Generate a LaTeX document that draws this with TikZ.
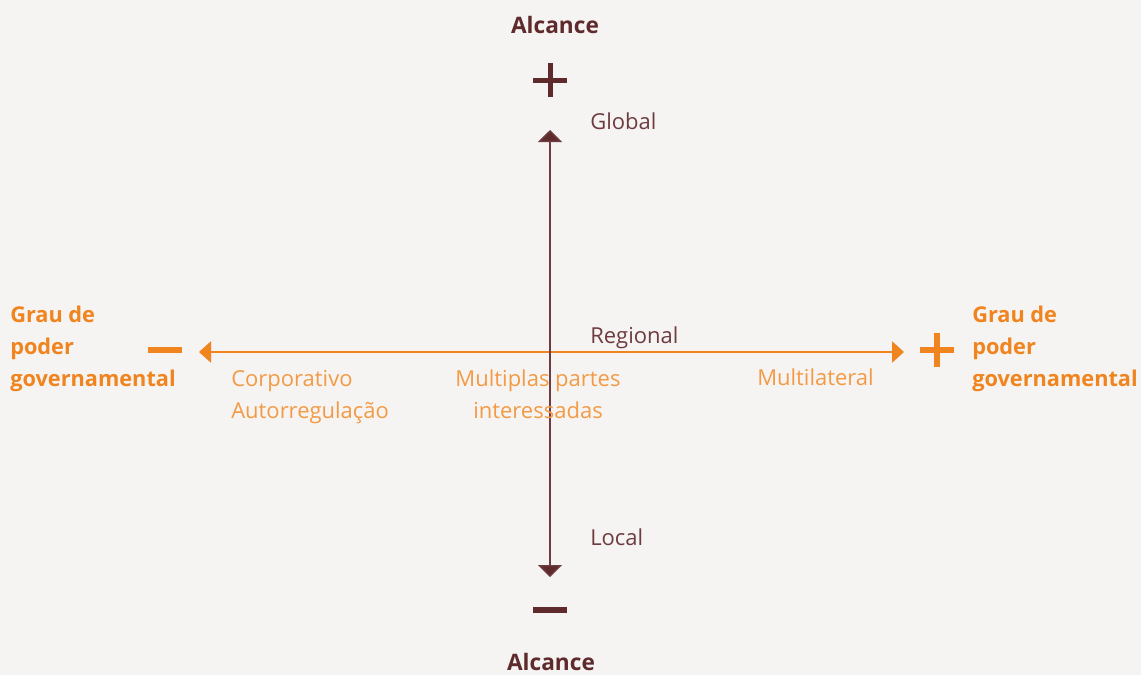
\documentclass[tikz,border=0pt]{standalone}
\usepackage{fontspec}
\setmainfont{Open Sans}
\usetikzlibrary{arrows.meta}
\definecolor{bg}{HTML}{F6F4F2}
\definecolor{maroon}{HTML}{5E2A2C}
\definecolor{maroonlt}{HTML}{6E3C40}
\definecolor{orng}{HTML}{F0841E}
\definecolor{orngl}{HTML}{F39A45}
\tikzset{
  ttl/.style={font=\fontsize{17}{20}\selectfont\bfseries, text=maroon, inner sep=0pt, anchor=base},
  grau/.style={font=\fontsize{16.3}{20}\selectfont\bfseries, text=orng, inner sep=0pt, anchor=base west},
  lbl/.style={font=\fontsize{16.5}{20}\selectfont, inner sep=0pt},
  vax/.style={draw=maroonlt, line width=1pt, {Triangle[length=9pt,width=18pt,fill=maroon]}-{Triangle[length=9pt,width=18pt,fill=maroon]}},
  hax/.style={draw=orng, line width=1pt, {Triangle[length=9pt,width=16pt,fill=orng]}-{Triangle[length=9pt,width=16pt,fill=orng]}},
}
\begin{document}
\begin{tikzpicture}[x=0.75pt,y=-0.75pt]
\fill[bg] (0,0) rectangle (1141,675);
\useasboundingbox (0,0) rectangle (1141,675);
% axes
\coordinate (vt) at (550,130);
\coordinate (vb) at (550,577);
\coordinate (hl) at (199,352);
\coordinate (hr) at (904,352);
\draw[hax] (hl) -- (hr);
\draw[vax] (vt) -- (vb);
% plus / minus
\fill[maroon] (533,77.5) rectangle (567,82.5);
\fill[maroon] (547.5,63) rectangle (552.5,97);
\fill[maroon] (533,607) rectangle (567,613);
\fill[orng] (148,347) rectangle (182,353);
\fill[orng] (920,347) rectangle (954,353);
\fill[orng] (934,333) rectangle (940,367);
% titles
\node[ttl] (at) at (555,33) {Alcance};
\node[ttl] (ab) at (551,670) {Alcance};
\node[grau] (gl1) at (10,322) {Grau de};
\node[grau] (gl2) at (10,354) {poder};
\node[grau] (gl3) at (10,386) {governamental};
\node[grau] (gr1) at (972,322) {Grau de};
\node[grau] (gr2) at (972,354) {poder};
\node[grau] (gr3) at (972,386) {governamental};
% labels
\node[lbl, text=maroonlt, anchor=base west] (glob) at (590,129) {Global};
\node[lbl, text=maroonlt, anchor=base west] (reg) at (590,343) {Regional};
\node[lbl, text=maroonlt, anchor=base west] (loc) at (590,545) {Local};
\node[lbl, text=orngl, anchor=base west] (corp1) at (231,386) {Corporativo};
\node[lbl, text=orngl, anchor=base west] (corp2) at (231,418) {Autorregulação};
\node[lbl, text=orngl, anchor=base] (mult1) at (538,386) {Multiplas partes};
\node[lbl, text=orngl, anchor=base] (mult2) at (538,418) {interessadas};
\node[lbl, text=orngl, anchor=base west] (mlat) at (757,385) {Multilateral};
\end{tikzpicture}
\end{document}
